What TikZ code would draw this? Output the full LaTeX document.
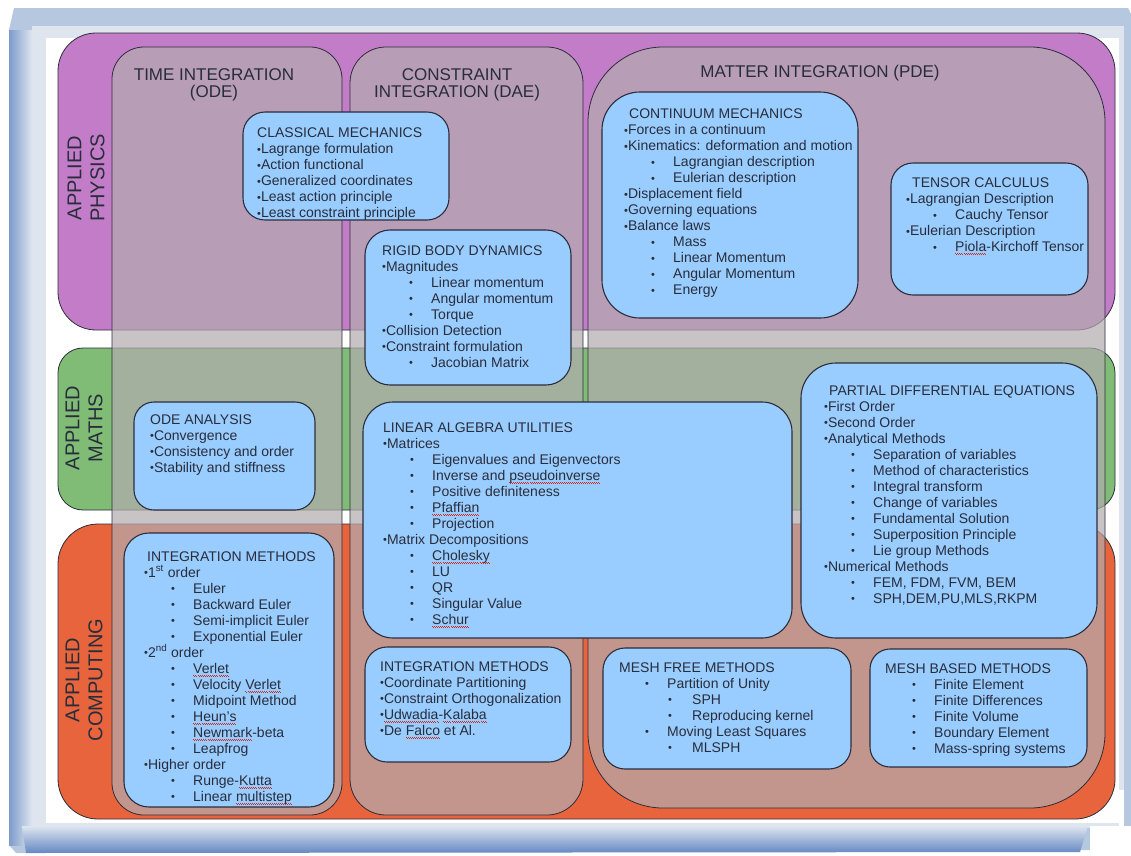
\documentclass[tikz,border=0pt]{standalone}
\usepackage{fontspec}
\setmainfont{Liberation Sans}
\usetikzlibrary{fit}
\definecolor{purpleband}{RGB}{195,125,200}
\definecolor{greenband}{RGB}{128,188,118}
\definecolor{orangeband}{RGB}{232,100,60}
\definecolor{colfill}{RGB}{178,172,175}
\definecolor{boxfill}{RGB}{153,204,255}
\definecolor{inkc}{RGB}{40,45,60}
\definecolor{lined}{RGB}{45,45,60}
\definecolor{frameLight}{RGB}{222,229,239}
\definecolor{frameMid}{RGB}{182,199,224}
\definecolor{frameDark}{RGB}{100,136,194}
\definecolor{squig}{RGB}{215,40,40}
\newsavebox\sqbox
\newcommand\sq[1]{\sbox\sqbox{#1}\rlap{\textcolor{squig}{\hbox to\wd\sqbox{\xleaders\hbox{\rule[-2.4pt]{1pt}{0.7pt}\rule[-3.2pt]{1pt}{0.7pt}}\hfil}}}\usebox\sqbox}
\newcommand\mb{\raisebox{0.5pt}{\fontsize{11}{16}\selectfont•}}
\newcommand\subit[1]{\hspace*{27pt}\makebox[22pt][l]{\mb}#1}
\newcommand\subsubit[1]{\hspace*{49pt}\makebox[24pt][l]{\mb}#1}
\newcommand\fl{\rule{0pt}{12pt}}
\begin{document}
\begin{tikzpicture}[x=1pt,y=-1pt,
  band/.style={draw=lined, line width=0.8pt, rounded corners=#1},
  col/.style={draw=lined, line width=0.8pt, fill=colfill, fill opacity=0.7},
  bluebox/.style={draw=lined, line width=1.1pt, fill=boxfill, inner sep=0pt},
  txt/.style={inner sep=0pt, anchor=north west, align=left, text=inkc, font=\fontsize{14}{16}\selectfont},
  coltitle/.style={inner sep=0pt, anchor=north, align=center, text=inkc, font=\fontsize{17}{17.5}\selectfont},
  sidelabel/.style={rotate=90, inner sep=0pt, align=center, text=inkc, font=\fontsize{20}{23}\selectfont}]
\useasboundingbox (0,0) rectangle (1131,855);
% frame
\fill[frameMid] (14,8) -- (1128,8) -- (1131,14) -- (1131,850) -- (16,853) -- (9,845) -- (9,30) -- cycle;
\shade[left color=frameDark!70!frameMid, right color=frameLight] (9,30) rectangle (32,845);
\fill[frameLight] (32,26) rectangle (1124,828);
\fill[white] (46,38) rectangle (1119,823);
\shade[top color=frameLight, bottom color=frameDark] (22,826) -- (1088,826) -- (1080,852) -- (26,853) -- cycle;
\fill[white] (1090,826) rectangle (1131,855);
\fill[white] (1119,790) rectangle (1124,826);
% bands
\path[band=38, fill=purpleband] (58,33) rectangle (1115,330);
\path[band=25, fill=greenband] (58,348) rectangle (1115,510);
\path[band=40, fill=orangeband] (58,524) rectangle (1115,819);
% columns
\path[col, rounded corners=32] (112,47) rectangle (342,815);
\path[col, rounded corners=36] (350,47) rectangle (583,815);
\path[col, rounded corners=75] (588,47) rectangle (1105,808);
% side labels
\node[sidelabel] (lphys) at (86,178) {APPLIED\\PHYSICS};
\node[sidelabel] (lmath) at (84,428) {APPLIED\\MATHS};
\node[sidelabel] (lcomp) at (84,680) {APPLIED\\COMPUTING};
% column titles
\node[coltitle] (tode) at (214,66) {\rule{0pt}{14pt}TIME INTEGRATION\\(ODE)};
\node[coltitle] (tdae) at (457,66) {\rule{0pt}{14pt}CONSTRAINT\\INTEGRATION (DAE)};
\node[coltitle] (tpde) at (820,63.5) {\rule{0pt}{14pt}MATTER INTEGRATION (PDE)};
% boxes
\node[bluebox, rounded corners=22pt, fit={(243,112) (449,220)}] (cmbox) {};
\node[bluebox, rounded corners=25pt, fit={(365,230) (571,385)}] (rbbox) {};
\node[bluebox, rounded corners=38pt, fit={(602,92) (858,318)}] (cnbox) {};
\node[bluebox, rounded corners=22pt, fit={(891,163) (1088,295)}] (tcbox) {};
\node[bluebox, rounded corners=20pt, fit={(134,402) (315,510)}] (odebox) {};
\node[bluebox, rounded corners=30pt, fit={(363,402) (792,638)}] (labox) {};
\node[bluebox, rounded corners=35pt, fit={(801,363) (1097,638)}] (pdebox) {};
\node[bluebox, rounded corners=25pt, fit={(124,533) (334,807)}] (imobox) {};
\node[bluebox, rounded corners=22pt, fit={(365,647) (571,762)}] (imdbox) {};
\node[bluebox, rounded corners=22pt, fit={(603,648) (851,769)}] (mfbox) {};
\node[bluebox, rounded corners=20pt, fit={(870,649) (1087,767)}] (mbbox) {};
% texts
\node[txt] (cmt) at (257,125.5) {\fl CLASSICAL MECHANICS\\\mb Lagrange formulation\\\mb Action functional\\\mb Generalized coordinates\\\mb Least action principle\\\mb Least constraint principle};
\node[txt] (rbt) at (382,243) {\fl RIGID BODY DYNAMICS\\\mb Magnitudes\\\subit{Linear momentum}\\\subit{Angular momentum}\\\subit{Torque}\\\mb Collision Detection\\\mb Constraint formulation\\\subit{Jacobian Matrix}};
\node[txt] (cnt) at (624,106.5) {\fl\hspace*{5pt}CONTINUUM MECHANICS\\\mb Forces in a continuum\\\mb Kinematics: deformation and motion\\\subit{Lagrangian description}\\\subit{Eulerian description}\\\mb Displacement field\\\mb Governing equations\\\mb Balance laws\\\subit{Mass}\\\subit{Linear Momentum}\\\subit{Angular Momentum}\\\subit{Energy}};
\node[txt] (tct) at (906,175.5) {\fl\hspace*{6pt}TENSOR CALCULUS\\\mb Lagrangian Description\\\subit{Cauchy Tensor}\\\mb Eulerian Description\\\subit{\sq{Piola}-Kirchoff Tensor}};
\node[txt] (odet) at (150,412) {\fl ODE ANALYSIS\\\mb Convergence\\\mb Consistency and order\\\mb Stability and stiffness};
\node[txt] (lat) at (383,420) {\fl LINEAR ALGEBRA UTILITIES\\\mb Matrices\\\subit{Eigenvalues and Eigenvectors}\\\subit{Inverse and \sq{pseudoinverse}}\\\subit{Positive definiteness}\\\subit{\sq{Pfaffian}}\\\subit{Projection}\\\mb Matrix Decompositions\\\subit{\sq{Cholesky}}\\\subit{LU}\\\subit{QR}\\\subit{Singular Value}\\\subit{\sq{Schur}}};
\node[txt] (pdet) at (824,383) {\fl\hspace*{5pt}PARTIAL DIFFERENTIAL EQUATIONS\\\mb First Order\\\mb Second Order\\\mb Analytical Methods\\\subit{Separation of variables}\\\subit{Method of characteristics}\\\subit{Integral transform}\\\subit{Change of variables}\\\subit{Fundamental Solution}\\\subit{Superposition Principle}\\\subit{Lie group Methods}\\\mb Numerical Methods\\\subit{FEM, FDM, FVM, BEM}\\\subit{SPH,DEM,PU,MLS,RKPM}};
\node[txt] (imot) at (144,549) {\fl\hspace*{3pt}INTEGRATION METHODS\\\mb 1\textsuperscript{st} order\\\subit{Euler}\\\subit{Backward Euler}\\\subit{Semi-implicit Euler}\\\subit{Exponential Euler}\\\mb 2\textsuperscript{nd} order\\\subit{\sq{Verlet}}\\\subit{Velocity \sq{Verlet}}\\\subit{Midpoint Method}\\\subit{\sq{Heun's}}\\\subit{\sq{Newmark}-beta}\\\subit{Leapfrog}\\\mb Higher order\\\subit{Runge-\sq{Kutta}}\\\subit{Linear \sq{multistep}}};
\node[txt] (imdt) at (380,659) {\fl INTEGRATION METHODS\\\mb Coordinate Partitioning\\\mb Constraint Orthogonalization\\\mb\sq{Udwadia}-\sq{Kalaba}\\\mb De \sq{Falco} et Al.};
\node[txt] (mft) at (619,660) {\fl MESH FREE METHODS\\\hspace*{26pt}\makebox[22pt][l]{\mb}Partition of Unity\\\subsubit{SPH}\\\subsubit{Reproducing kernel}\\\hspace*{26pt}\makebox[22pt][l]{\mb}Moving Least Squares\\\subsubit{MLSPH}};
\node[txt] (mbt) at (885,661) {\fl MESH BASED METHODS\\\subit{Finite Element}\\\subit{Finite Differences}\\\subit{Finite Volume}\\\subit{Boundary Element}\\\subit{Mass-spring systems}};
\end{tikzpicture}
\end{document}
